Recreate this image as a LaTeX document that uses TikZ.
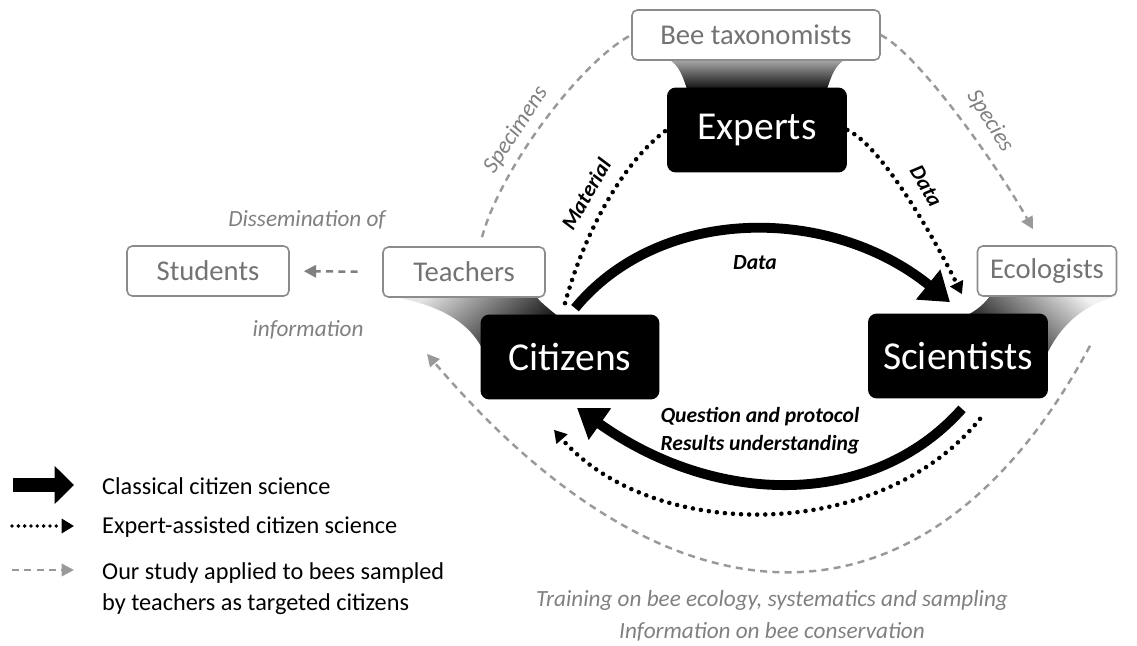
\documentclass[tikz,border=0pt]{standalone}
\usepackage{fontspec}
\setmainfont{Carlito}
\usetikzlibrary{arrows.meta,calc}

\tikzset{
	leafbox/.style={draw=black!45, line width=0.9pt, rounded corners=3pt, fill=white, text=black!55, font=\fontsize{16.3}{19}\selectfont, minimum height=1cm},
	corebox/.style={fill=black, rounded corners=5pt, text=white, font=\fontsize{22.5}{27}\selectfont, minimum height=1.7cm},
	classic/.style={line width=5.6pt, -{Triangle[length=16pt,width=21pt]}},
	expert/.style={line width=2.6pt, line cap=round, dash pattern=on 0pt off 4.6pt, -{Triangle[length=7pt,width=8pt]}},
	study/.style={draw=black!40, line width=1.4pt, dash pattern=on 4pt off 3pt, -{Triangle[length=7pt,width=7pt]}},
	boldlab/.style={font=\fontsize{12.3}{14}\selectfont\bfseries\itshape},
	graylab/.style={text=black!50, font=\fontsize{13.2}{15}\selectfont\itshape},
	legtext/.style={anchor=west, align=left, font=\fontsize{13.8}{18}\selectfont}
}

\begin{document}
\begin{tikzpicture}[x=0.02cm, y=-0.02cm]
	\useasboundingbox (0,0) rectangle (1137,646);
	% funnels between the boxes
	\shade[top color=black!30, bottom color=black] (666,58) .. controls (680,64) and (683,78) .. (688,92) -- (826,92) .. controls (831,78) and (834,64) .. (848,58) -- cycle;
	\shade[top color=black!10, bottom color=black, shading angle=40] (390,296) .. controls (440,305) and (470,322) .. (484,352) -- (484,318) -- (560,318) .. controls (548,308) and (540,302) .. (536,296) -- cycle;
	\shade[top color=black!5, bottom color=black, shading angle=-40] (990,296) .. controls (982,307) and (972,313) .. (962,318) -- (1046,318) -- (1046,356) .. controls (1062,322) and (1085,305) .. (1117,296) -- cycle;
	% boxes
	\node[leafbox, minimum width=4.96cm] (taxo) at (756,35) {Bee taxonomists};
	\node[corebox, minimum width=3.6cm] (experts) at (757,130) {Experts};
	\node[leafbox, minimum width=3.24cm] (students) at (208,271) {Students};
	\node[leafbox, minimum width=3.24cm] (teachers) at (464,272) {Teachers};
	\node[leafbox, minimum width=2.78cm] (ecologists) at (1047,271) {Ecologists};
	\node[corebox, minimum width=3.58cm] (citizens) at (570,357) {Citizens};
	\node[corebox, minimum width=3.6cm] (scientists) at (958,356) {Scientists};
	% classical citizen science
	\draw[classic] ($(citizens.north)+(5,-6)$) .. controls (660,205) and (830,205) .. ($(scientists.north)+(-8,-11)$);
	\draw[classic] ($(scientists.south)+(4,10)$) .. controls (874,508) and (718,508) .. ($(citizens.south)+(7,8)$);
	% expert-assisted
	\draw[expert, -] ($(citizens.north)+(-5,-11)$) .. controls (585,230) and (625,160) .. (experts.west);
	\draw[expert] (experts.east) .. controls (880,145) and (930,230) .. ($(scientists.north)+(4,-19)$);
	\draw[expert] ($(scientists.south)+(22,20)$) .. controls (880,543) and (652,543) .. ($(citizens.south)+(-16,30)$);
	% our study
	\draw[study, -] ($(teachers.north)+(18,-9)$) .. controls (500,170) and (580,62) .. (taxo.west);
	\draw[study] (taxo.east) .. controls (920,55) and (1000,170) .. ($(ecologists.north)+(-14,-16)$);
	\draw[study, draw=black!50, shorten <=14pt, shorten >=8pt] (teachers.west) -- (students.east);
	\draw[study] ($(ecologists.south)+(43,49)$) .. controls (930,645) and (675,645) .. ($(teachers.south)+(-37,56)$);
	% labels
	\node[boldlab] (datatop) at (755,263) {Data};
	\node[boldlab, rotate=60] (material) at (586,194) {Material};
	\node[boldlab, rotate=-60] (dataright) at (926,186) {Data};
	\node[boldlab, align=left] (question) at (760,431) {Question and protocol\\[2pt]Results understanding};
	\node[graylab, rotate=57] (specimens) at (516,130) {Specimens};
	\node[graylab, rotate=-58] (species) at (990,121) {Species};
	\node[graylab] (dissem) at (307,220) {Dissemination of};
	\node[graylab] (info) at (308,330) {information};
	\node[graylab] (training) at (772,600) {Training on bee ecology, systematics and sampling};
	\node[graylab] (conserv) at (772,632) {Information on bee conservation};
	% legend
	\coordinate (la1) at (13,485); \coordinate (lb1) at (74,485);
	\coordinate (la2) at (12,526); \coordinate (lb2) at (74,526);
	\coordinate (la3) at (12,570); \coordinate (lb3) at (74,570);
	\draw[line width=8.5pt, -{Triangle[length=11pt,width=21pt]}] (la1) -- (lb1);
	\draw[expert, line width=2.2pt, dash pattern=on 0pt off 3.6pt] (la2) -- (lb2);
	\draw[study] (la3) -- (lb3);
	\node[legtext] (leg1) at (96,486) {Classical citizen science};
	\node[legtext] (leg2) at (96,527) {Expert-assisted citizen science};
	\node[legtext, anchor=north west] (leg3) at (96,556) {Our study applied to bees sampled\\by teachers as targeted citizens};
\end{tikzpicture}
\end{document}
